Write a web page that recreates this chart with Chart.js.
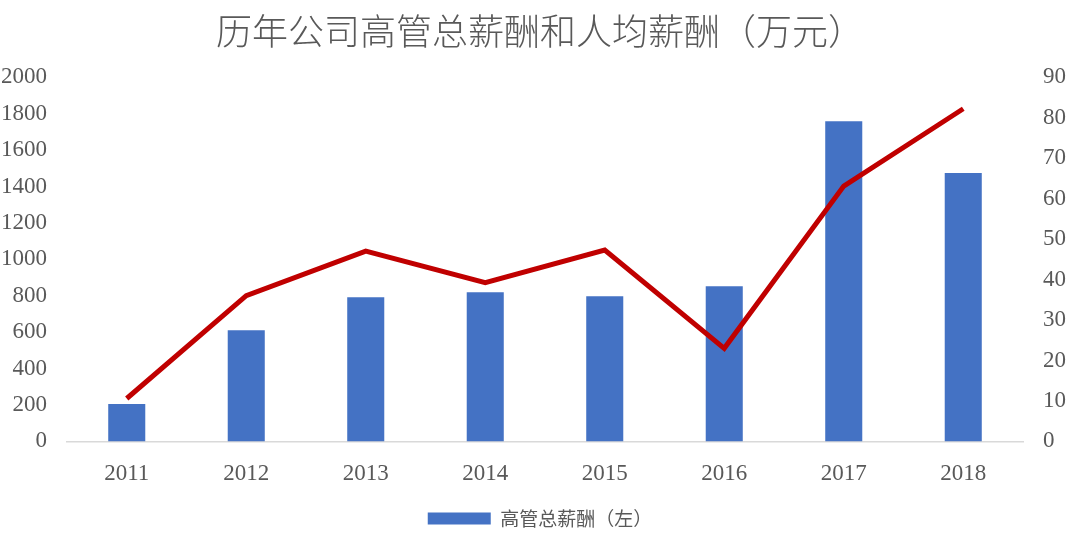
<!DOCTYPE html>
<html>
<head>
<meta charset="utf-8">
<script src="https://cdn.jsdelivr.net/npm/chart.js@4/dist/chart.umd.min.js"></script>
<style>
  html, body { margin: 0; padding: 0; background: #fff; }
  #wrap { width: 1080px; height: 550px; }
</style>
</head>
<body>
<div id="wrap"><canvas id="chart" width="1080" height="550"></canvas></div>
<script>
const years = ['2011', '2012', '2013', '2014', '2015', '2016', '2017', '2018'];
const totalPay = [205, 610, 791, 819, 797, 852, 1758, 1474]; // 高管总薪酬, left axis
const avgPay = [10.6, 36, 47, 39.2, 47.3, 23, 63.1, 82.2];   // 人均薪酬, right axis
const titleText = '历年公司高管总薪酬和人均薪酬（万元）';
const barLabel = '高管总薪酬（左）';
const lineLabel = '人均薪酬（右）';

const tickFont = { family: '"Liberation Serif", "DejaVu Serif", serif', size: 23 };
const grey = '#595959';

new Chart(document.getElementById('chart'), {
  data: {
    labels: years,
    datasets: [
      {
        type: 'line',
        label: lineLabel,
        data: avgPay,
        yAxisID: 'y1',
        borderColor: '#c00000',
        borderWidth: 5,
        pointRadius: 0,
        tension: 0,
        order: 0
      },
      {
        type: 'bar',
        label: barLabel,
        data: totalPay,
        yAxisID: 'y',
        backgroundColor: '#4472c4',
        barPercentage: 0.31,
        categoryPercentage: 1,
        order: 1
      }
    ]
  },
  options: {
    responsive: false,
    animation: false,
    layout: { padding: { left: 0, right: 0, top: 0, bottom: 12 } },
    plugins: {
      title: {
        display: true,
        text: titleText,
        color: grey,
        font: { family: '"Noto Sans CJK SC", sans-serif', size: 36, weight: '300' },
        padding: { top: 10, bottom: 24 }
      },
      legend: {
        position: 'bottom',
        labels: {
          filter: item => item.text === barLabel,
          boxWidth: 63,
          boxHeight: 12,
          color: grey,
          font: { family: '"Noto Sans CJK SC", sans-serif', size: 19 },
          padding: 10
        }
      },
      tooltip: { enabled: false }
    },
    scales: {
      x: {
        grid: { display: false },
        border: { display: true, color: '#d9d9d9', width: 1.5 },
        ticks: { color: grey, font: tickFont, padding: 11 }
      },
      y: {
        position: 'left',
        min: 0,
        max: 2000,
        ticks: { stepSize: 200, color: grey, font: tickFont, padding: 12, callback: v => String(v) },
        grid: { display: false },
        border: { display: false },
        afterFit: s => { s.width = 67; }
      },
      y1: {
        position: 'right',
        min: 0,
        max: 90,
        ticks: { stepSize: 10, color: grey, font: tickFont, padding: 12, callback: v => String(v) },
        grid: { display: false },
        border: { display: false },
        afterFit: s => { s.width = 57; }
      }
    }
  }
});
</script>
</body>
</html>
